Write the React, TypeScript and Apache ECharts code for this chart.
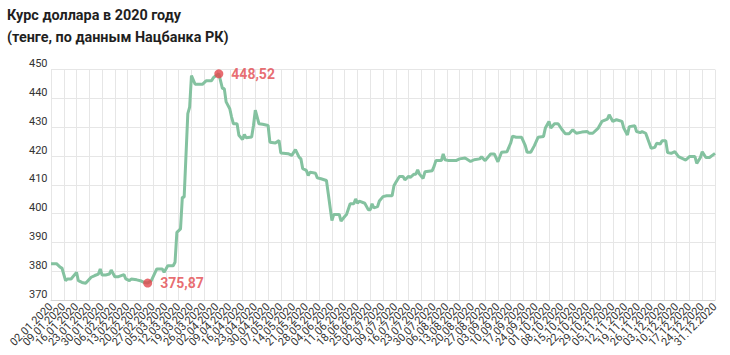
import React, { useEffect, useRef } from 'react';
import * as echarts from 'echarts';

const titleLine1 = 'Курс доллара в 2020 году';
const titleLine2 = '(тенге, по данным Нацбанка РК)';

// weekly tick labels (every 7 days from 02.01.2020)
const weekLabels = [
  '02.01.2020', '09.01.2020', '16.01.2020', '23.01.2020', '30.01.2020',
  '06.02.2020', '13.02.2020', '20.02.2020', '27.02.2020',
  '05.03.2020', '12.03.2020', '19.03.2020', '26.03.2020',
  '02.04.2020', '09.04.2020', '16.04.2020', '23.04.2020', '30.04.2020',
  '07.05.2020', '14.05.2020', '21.05.2020', '28.05.2020',
  '04.06.2020', '11.06.2020', '18.06.2020', '25.06.2020',
  '02.07.2020', '09.07.2020', '16.07.2020', '23.07.2020', '30.07.2020',
  '06.08.2020', '13.08.2020', '20.08.2020', '27.08.2020',
  '03.09.2020', '10.09.2020', '17.09.2020', '24.09.2020',
  '01.10.2020', '08.10.2020', '15.10.2020', '22.10.2020', '29.10.2020',
  '05.11.2020', '12.11.2020', '19.11.2020', '26.11.2020',
  '03.12.2020', '10.12.2020', '17.12.2020', '24.12.2020', '31.12.2020',
];

// days counted from 02.01.2020
const dayOffsets = [
  0, 3, 5, 6, 8, 9, 11, 14, 15, 17, 19, 22, 24, 26, 27, 28, 30, 32, 33, 35,
  37, 40, 41, 43, 44, 47, 49, 51, 53, 55, 58, 61, 62, 64, 67, 68, 69, 71, 72, 73,
  75, 76, 77, 79, 81, 83, 85, 88, 89, 90, 92, 94, 95, 96, 98, 99, 100, 102, 103, 105,
  106, 107, 110, 111, 112, 114, 116, 119, 120, 123, 125, 126, 130, 132, 134, 136, 137, 138, 140, 141,
  142, 145, 146, 148, 151, 152, 154, 155, 158, 159, 161, 162, 164, 166, 167, 168, 169, 172, 174, 175,
  176, 177, 179, 180, 182, 184, 187, 188, 189, 191, 193, 194, 196, 197, 199, 200, 201, 202, 204, 205,
  209, 210, 211, 214, 215, 216, 218, 222, 224, 227, 230, 232, 235, 236, 238, 241, 243, 245, 247, 250,
  252, 253, 255, 258, 260, 261, 263, 265, 267, 270, 271, 273, 274, 276, 278, 280, 282, 284, 286, 288,
  291, 294, 295, 297, 300, 302, 305, 306, 308, 310, 313, 314, 316, 317, 320, 321, 323, 324, 326, 327,
  329, 331, 332, 334, 335, 337, 338, 340, 342, 344, 346, 348, 350, 353, 354, 356, 357, 359, 361, 364,
];

const usdRates = [
  382.6, 382.6, 381.4, 381.1, 376.7, 377.3, 377.3, 379.6, 376.7, 376.1, 375.8, 377.9, 378.5, 379.0, 380.8, 378.7, 378.7, 379.0, 380.4, 378.1,
  378.1, 378.8, 377.3, 376.7, 377.3, 377.0, 376.7, 376.1, 375.87, 376.7, 380.8, 380.8, 379.6, 381.9, 381.9, 383.1, 393.5, 394.7, 405.7, 405.7,
  434.7, 437.0, 447.9, 444.9, 444.9, 444.9, 446.1, 446.1, 447.2, 447.7, 448.52, 443.4, 443.4, 438.8, 436.4, 433.5, 431.2, 431.2, 427.2, 425.7,
  427.5, 426.3, 426.6, 430.6, 435.9, 431.2, 431.0, 430.6, 424.8, 424.5, 425.4, 421.0, 420.8, 420.2, 422.2, 419.6, 419.0, 415.6, 415.0, 413.2,
  414.4, 414.0, 412.4, 412.1, 411.5, 406.9, 397.6, 399.7, 399.7, 397.4, 399.0, 399.7, 403.4, 403.4, 405.1, 403.6, 404.3, 403.6, 401.3, 401.3,
  403.4, 402.0, 402.4, 404.4, 405.9, 406.2, 406.2, 409.7, 410.8, 412.9, 412.9, 411.7, 412.9, 412.6, 413.7, 413.7, 415.2, 413.7, 412.2, 414.5,
  414.9, 416.4, 418.4, 418.4, 420.7, 418.7, 418.4, 418.4, 419.0, 419.3, 418.1, 418.7, 419.0, 419.7, 418.4, 420.7, 420.7, 418.0, 421.3, 421.5,
  424.5, 426.9, 426.5, 426.5, 423.6, 421.3, 421.3, 423.6, 426.5, 426.8, 429.7, 432.0, 429.7, 431.2, 431.2, 429.3, 427.7, 427.7, 429.1, 427.9,
  428.3, 428.5, 427.9, 427.9, 429.7, 432.0, 432.8, 434.3, 432.0, 432.6, 432.0, 429.7, 427.3, 430.2, 430.5, 428.5, 428.1, 428.5, 427.9, 426.2,
  422.7, 423.0, 424.4, 424.2, 425.3, 425.3, 421.2, 420.9, 421.5, 419.8, 419.2, 418.6, 419.8, 419.8, 417.4, 419.5, 421.5, 419.5, 419.5, 420.9,
];

// annotated extremes
const extremeDays = [53, 92];
const extremeRates = [375.87, 448.52];

const FIRST_DAY = 0;
const LAST_DAY = 364;
const WEEK = 7;

export default function App() {
  const ref = useRef<HTMLDivElement>(null);

  useEffect(() => {
    if (!ref.current) return;
    const chart = echarts.init(ref.current, null, { renderer: 'svg' });
    const lineData = dayOffsets.map((d, i) => [d, usdRates[i]]);
    const extremeData = extremeDays.map((d, i) => [d, extremeRates[i]]);
    const labelStyle = {
      rotate: 45,
      fontSize: 11,
      color: '#333333',
      margin: 5,
      fontFamily: 'Roboto',
      formatter: (v: number) => weekLabels[Math.round(v / WEEK)] ?? '',
    };
    chart.setOption({
      animation: false,
      backgroundColor: '#ffffff',
      textStyle: { fontFamily: 'Roboto' },
      title: {
        text: titleLine1 + '\n' + titleLine2,
        left: 7,
        top: 4,
        padding: 0,
        textStyle: {
          fontFamily: 'Roboto',
          fontSize: 14.4,
          fontWeight: 'bold',
          color: '#1f1f1f',
          lineHeight: 22,
        },
      },
      grid: { left: 51, right: 15, top: 69.6, bottom: 55 },
      xAxis: [
        {
          type: 'value',
          position: 'bottom',
          min: FIRST_DAY,
          max: LAST_DAY,
          interval: WEEK,
          axisLine: { show: true, lineStyle: { color: '#d4d4d4', width: 1 } },
          axisTick: { show: false },
          splitLine: { show: true, lineStyle: { color: '#e6e6e6', width: 1 } },
          axisLabel: { ...labelStyle, showMinLabel: false, showMaxLabel: false },
        },
        {
          // first and last week labels only
          type: 'value',
          position: 'bottom',
          offset: 0,
          min: FIRST_DAY,
          max: LAST_DAY,
          interval: LAST_DAY - FIRST_DAY,
          axisLine: { show: false },
          axisTick: { show: false },
          splitLine: { show: false },
          axisLabel: { ...labelStyle, showMinLabel: true, showMaxLabel: true },
        },
      ],
      yAxis: {
        type: 'value',
        min: 370,
        max: 450,
        interval: 10,
        axisLine: { show: false },
        axisTick: { show: false },
        splitLine: { show: true, lineStyle: { color: '#e6e6e6', width: 1 } },
        axisLabel: {
          align: 'left',
          margin: 22,
          fontSize: 11,
          color: '#333333',
          fontFamily: 'Roboto',
          verticalAlign: 'bottom',
          lineHeight: 12,
        },
      },
      series: [
        {
          type: 'line',
          data: lineData,
          symbol: 'none',
          lineStyle: { color: '#84c2a0', width: 3 },
          z: 2,
        },
        {
          type: 'scatter',
          data: extremeData,
          symbolSize: 9,
          itemStyle: { color: '#e2474d' },
          z: 3,
          label: {
            show: true,
            position: 'right',
            distance: 8,
            color: '#e2474d',
            fontSize: 14,
            fontWeight: 'bold',
            fontFamily: 'Roboto',
            formatter: (p: any) => p.value[1].toFixed(2).replace('.', ','),
          },
        },
      ],
    });
    return () => chart.dispose();
  }, []);

  return (
    <div
      ref={ref}
      style={{ position: 'fixed', left: 0, top: 0, width: 730, height: 355 }}
    />
  );
}
